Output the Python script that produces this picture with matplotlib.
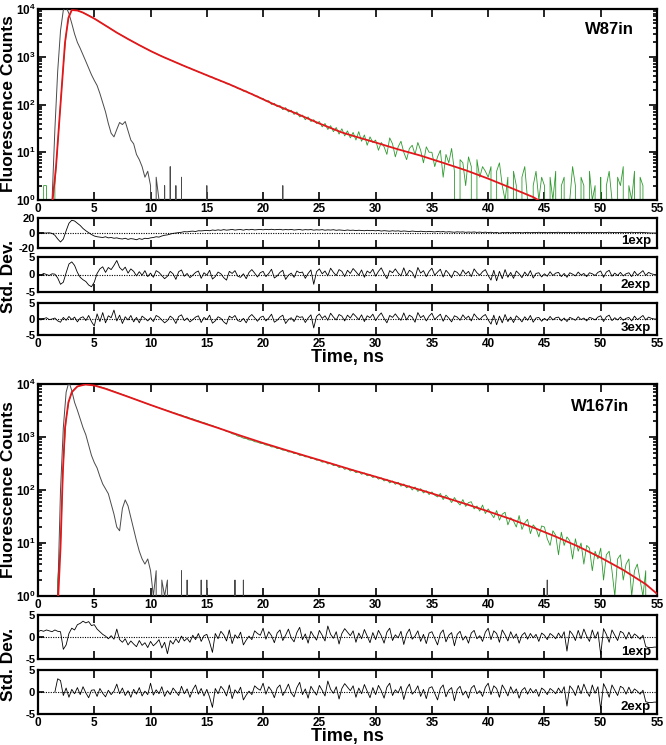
import numpy as np
import matplotlib
matplotlib.use("Agg")
import matplotlib.pyplot as plt
from matplotlib.ticker import LogLocator, NullFormatter, FuncFormatter, FixedLocator

nan = float("nan")

# ---------------- data ----------------
# time channels: 0 .. 55 ns in 0.25 ns steps (221 channels)
t_first, t_last, n_channels = 0.0, 55.0, 221
x_tick_values = [0, 5, 10, 15, 20, 25, 30, 35, 40, 45, 50, 55]

# ---- panel A (W87in) ----
w87_fit_time = [1.3, 1.6, 2.0, 2.4, 2.7, 3.0, 3.5, 4, 5, 6, 7, 8, 9, 10, 11, 13, 15, 17, 19, 21,
                23, 25, 27, 28, 30, 32, 34, 36, 38, 40, 42, 44, 44.6]
w87_fit_counts = [1, 5, 100, 2000, 6500, 9500, 9300, 8400, 6300, 4500, 3200, 2350, 1750, 1320, 1020,
                  640, 410, 265, 165, 100, 64, 40, 26, 22, 16, 11.5, 8.5, 6.0, 4.2, 2.8, 1.8, 1.15, 0.95]

w87_data_rows = [
    [0, 0, 2, 2, 0, 0, 2, 15, 105, 640, 3000, 7100, 9500, 9450, 9300, 8900, 8400, 7900, 7350, 6850],
    [6290, 5870, 5330, 4920, 4480, 4170, 3790, 3510, 3190, 2960, 2740, 2560, 2340, 2200, 2020, 1900, 1740, 1640, 1510, 1430],
    [1330, 1230, 1170, 1080, 1030, 955, 915, 850, 815, 755, 725, 670, 645, 600, 580, 535, 515, 480, 462, 430],
    [415, 380, 375, 340, 335, 305, 300, 272, 268, 245, 240, 215, 212, 190, 192, 172, 168, 152, 150, 136],
    [134, 118, 120, 100, 106, 90, 95, 78, 86, 70, 76, 62, 70, 55, 60, 48, 55, 44, 48, 40],
    [44, 34, 40, 30, 36, 27, 33, 24, 31, 22, 28, 20, 26, 18, 27, 17, 23, 14, 21, 16],
    [18, 11, 16, 13, 9, 20, 15, 8, 13, 17, 10, 7, 12, 14, 9, 16, 11, 6, 13, 10],
    [10, 5, 8, 11, 3, 9, 6, 12, 4, 0, 7, 6, 2, 8, 5, 0, 7, 3, 5, 4],
    [3, 5, 0, 4, 6, 2, 1, 3, 0, 4, 2, 0, 3, 5, 1, 0, 2, 4, 1, 3],
    [2, 0, 3, 1, 4, 0, 2, 3, 0, 1, 5, 2, 0, 3, 2, 0, 4, 1, 2, 0],
    [3, 0, 2, 4, 1, 0, 3, 2, 5, 0, 2, 1, 4, 0, 3, 2, 0, 0, 0, 0, 0],
]
w87_irf_rows = [
    [0, 0, 0, 0, 0, 1, 30, 500, 3500, 9500, 11000, 8000, 5000, 3000, 2000, 1500, 1100, 800, 580, 420],
    [320, 250, 170, 110, 70, 40, 25, 21, 30, 42, 38, 44, 28, 18, 15, 9, 7, 5, 3, 4],
    [2, 0, 3, 1, 0, 2, 0, 5, 0, 2, 0, 3, 0, 0, 0, 0, 0, 0, 0, 0],
    [2, 0, 0, 0, 0, 0, 0, 0, 0, 0, 0, 0, 0, 0, 0, 0, 0, 0, 0, 0],
    [0, 0, 0, 0, 0, 0, 0, 2, 0, 0, 0, 0, 0, 0, 0, 0, 0, 0, 0, 0],
    [0] * 20, [0] * 20, [0] * 20, [0] * 20, [0] * 20, [0] * 21,
]
w87_res1_rows = [
    [0, 0, 0, 0, 0.3, -0.5, -3, -8, -12, -8, 3, 13, 17, 16, 13, 10, 6, 3, 0.5, -2],
    [-4, -5, -5.5, -6, -5, -6.5, -6, -7, -6.5, -7.5, -8, -7, -8.5, -7.5, -8, -9, -7.5, -8.5, -7, -7.5],
    [-6.5, -6, -5, -5.5, -4, -3, -2.5, -1.5, -0.5, 0, 0.5, 1, 1.8, 1.5, 2.2, 2.5, 2, 3, 2.8, 3.2],
    [3.5, 3, 4, 3.5, 4.2, 3.6, 4.5, 3.8, 4.2, 4.8, 3.9, 4.4, 4.6, 3.8, 4.7, 4.2, 4.9, 4.1, 4.5, 4.8],
    [4.2, 4.9, 4.4, 5, 4.3, 4.6, 4.9, 4.1, 4.6, 4.3, 4.8, 4, 4.4, 4.7, 3.9, 4.5, 4.2, 4.6, 3.8, 4.3],
    [4.0, 4.5, 3.7, 4.2, 3.9, 4.4, 3.6, 4.1, 3.8, 3.4, 4.0, 3.5, 3.8, 3.2, 3.7, 3.4, 3.0, 3.6, 3.1, 3.3],
    [2.9, 3.4, 2.6, 3.1, 2.8, 2.4, 3.0, 2.5, 2.9, 2.2, 2.7, 2.4, 2.0, 2.6, 2.2, 1.8, 2.4, 2.0, 1.6, 2.2],
    [1.8, 1.4, 2.1, 1.5, 1.9, 1.2, 1.7, 1.4, 1.0, 1.6, 1.2, 1.5, 0.9, 1.3, 1.0, 1.4, 0.8, 1.2, 0.7, 1.1],
    [0.6, 1.0, 0.2, 0.8, -0.2, 0.6, 0.3, 0.9, 0.1, 0.7, 0.4, 0.8, 0.2, 0.6, 0.9, 0.3, 0.7, 0.5, 1.0, 0.4],
    [0.8, 0.3, 0.9, 0.5, 0.7, 1.0, 0.4, 0.8, 0.6, 0.9, 0.3, 0.7, 1.0, 0.5, 0.8, 0.4, 0.9, 0.6, 0.8, 0.5],
    [0.9, 0.4, 0.7, 1.0, 0.5, 0.8, 0.6, 0.9, 0.4, 0.8, 0.6, 1.0, 0.5, 0.7, 0.9, 0.6, 0.4, 0.2, 0.0, 0.0, 0.0],
]
# 2exp / 3exp residuals: different start (0-9.75 ns), common tail (10-55 ns)
w87_res2_head = [
    [0.1, -0.2, 0.3, 0.0, -0.3, 0.2, 0.1, -1.0, -2.8, -2.2, 0.5, 3.0, 3.6, 2.6, 0.6, -0.8, -1.5, -2.0, -3.0, -3.5],
    [-2.2, 0.3, 1.6, 2.2, 0.6, 2.0, 1.4, 2.6, 4.0, 2.0, 1.2, 2.1, 0.4, 1.6, 0.9, -0.4, 0.8, -0.2, 1.1, -0.6],
]
w87_res3_head = [
    [0.2, -0.3, 0.1, 0.4, -0.2, 0.0, 0.3, -0.6, -1.0, 0.5, -0.4, 0.8, -0.2, 0.6, -0.9, 0.3, 0.7, -0.5, 1.1, -0.8],
    [-2.2, 1.6, -0.8, 2.0, -1.2, 1.0, 0.4, 2.8, -0.6, 1.2, -1.4, 0.7, -0.3, 1.1, -0.9, 0.5, -1.2, 0.9, 0.2, -0.6],
]
w87_res_tail = [
    [0.4, -0.8, 1.1, 0.6, -0.3, -1.2, -0.5, 0.9, 0.2, -1.4, 0.8, 1.3, -0.5, 0.3, -0.9, -0.2, 0.6, 1.0, -1.1, 0.5],
    [-0.2, 1.2, -1.3, -0.6, 0.7, 0.2, -0.9, -1.6, 0.9, 0.3, 1.1, -0.5, -0.8, 0.2, -1.2, 0.6, 1.4, 0.4, -0.7, 0.5],
    [0.9, -0.6, 0.3, 1.5, -1.0, -0.4, 0.6, 1.2, -1.4, -0.2, 0.4, -0.8, 1.0, 0.5, 0.7, -1.1, 0.3, 1.3, -2.8, 0.8],
    [1.6, 0.2, 1.0, -0.4, 1.8, 0.6, -0.3, 1.4, 0.9, -0.6, 1.2, 0.3, 1.7, 0.8, -0.2, 1.3, -0.8, 1.0, 0.4, 1.5],
    [-0.5, 0.9, 1.9, 0.2, -1.2, 1.1, 0.5, 1.6, 0.4, -0.4, 1.9, -0.3, 1.2, 0.6, -1.0, 2.0, 0.4, 1.1, -0.6, 0.9],
    [1.8, -0.2, 0.7, 1.5, -0.7, 1.2, 0.3, -0.9, 1.0, 0.6, -0.4, 1.3, 0.1, 0.9, -0.6, 1.6, 0.5, -0.2, 0.8, 1.4],
    [-0.3, -1.6, 1.2, -1.8, 0.9, -1.2, 1.4, -0.8, 0.6, -1.1, 1.0, 0.2, -0.9, 0.7, -0.4, 1.1, -1.0, 0.3, 0.5, -0.7],
    [0.2, -0.5, 0.8, -0.3, 0.4, 0.6, -0.6, 0.3, -0.8, 0.5, 0.1, -0.4, 0.7, -0.2, 0.3, -0.6, 0.5, 0.2, -0.3, 0.6],
    [1.0, -0.8, 0.7, 1.2, -0.5, 0.4, -0.3, 0.6, -0.4, 0.2, 0.5, -0.6, 0.9, -0.2, 0.4, 1.1, -0.3, 0.6, 0.2, 0.0, 0.0],
]

# ---- panel B (W167in) ----
w167_fit_time = [1.8, 2.0, 2.2, 2.4, 2.7, 3.0, 3.5, 4.2, 5, 6, 8, 10, 12, 14, 16, 18, 20, 22, 24, 26,
                 28, 30, 32, 34, 36, 38, 40, 42, 44, 46, 48, 50, 52, 54, 55]
w167_fit_counts = [1, 8, 200, 1500, 4500, 7000, 9000, 9800, 9380, 8130, 5750, 4030, 2850, 2040, 1480,
                   1060, 770, 570, 425, 318, 236, 178, 133, 100, 74, 54.5, 39.5, 28.3, 19.6, 13.2, 8.6,
                   5.3, 3.1, 1.67, 1.1]

w167_data_rows = [
    [0, 0, 0, 0, 0, 0, 0, 2, 9, 320, 2200, 4700, 7000, 8100, 8900, 9400, 9600, 9750, 9700, 9550],
    [9480, 9200, 8860, 8600, 8280, 7950, 7570, 7270, 6920, 6650, 6330, 6080, 5790, 5550, 5270, 5060, 4800, 4610, 4380, 4200],
    [3990, 3860, 3680, 3560, 3390, 3290, 3130, 3040, 2880, 2800, 2660, 2590, 2450, 2390, 2260, 2200, 2090, 2030, 1920, 1860],
    [1790, 1690, 1650, 1550, 1510, 1410, 1370, 1270, 1240, 1150, 1120, 1040, 1010, 950, 935, 880, 870, 815, 800, 760],
    [750, 705, 698, 650, 652, 605, 604, 565, 566, 522, 526, 487, 489, 450, 456, 422, 425, 392, 395, 365],
    [370, 335, 345, 310, 320, 288, 300, 265, 278, 245, 258, 228, 240, 212, 225, 198, 210, 185, 196, 172],
    [182, 160, 170, 148, 160, 136, 148, 128, 140, 118, 130, 110, 120, 100, 114, 94, 106, 88, 97, 82],
    [92, 80, 74, 86, 66, 80, 70, 58, 72, 60, 52, 66, 49, 58, 60, 44, 50, 40, 52, 36],
    [44, 36, 30, 41, 27, 35, 38, 22, 30, 26, 20, 33, 18, 24, 28, 15, 22, 19, 13, 21],
    [20, 12, 9, 17, 14, 6, 16, 9, 13, 11, 5, 12, 7, 10, 4, 9, 8, 3, 7, 5],
    [8, 2, 6, 7, 3, 1, 5, 6, 2, 4, 5, 1, 3, 4, 2, 1, 3, 0, 0, 0, 0],
]
w167_irf_rows = [
    [0, 0, 0, 0, 0, 0, 0, 1, 100, 1500, 7000, 11000, 7500, 4500, 3200, 2200, 1500, 1100, 700, 450],
    [330, 260, 180, 130, 105, 85, 55, 35, 20, 17, 45, 65, 50, 30, 18, 11, 7, 5, 4, 5],
    [3, 1, 3, 0, 2, 1, 2, 0, 0, 0, 0, 3, 0, 2, 0, 0, 0, 0, 2, 0],
    [2, 0, 0, 0, 0, 0, 0, 0, 0, 0, 2, 0, 0, 2, 0, 0, 0, 0, 0, 0],
    [0] * 20, [0] * 20, [0] * 20, [0] * 20, [0] * 20,
    [0, 2, 0, 0, 0, 0, 0, 0, 0, 0, 0, 0, 0, 0, 0, 0, 0, 0, 0, 0],
    [0] * 21,
]
w167_res1_head = [
    [1.2, 1.5, 1.3, 1.6, 1.4, 1.2, 1.6, 1.3, 1.2, -2.8, -1.8, 0.8, 2.0, 1.6, 2.8, 3.1, 3.6, 3.2, 3.5, 2.6],
    [2.8, 1.8, 1.2, 0.6, 0.2, -0.4, 0.3, -0.5, 1.8, -0.6, -1.2, -0.4, -1.8, -0.9, -1.6, -2.2, -0.8, -1.9, -1.3, -2.4],
    [-1.0, -2.0, -1.4, -0.6, -2.5, -1.2, -3.8, -0.8, -1.6, -0.4, -1.3, 0.2, -0.9, -0.3, -1.2, 0.4, -0.6, 0.8, -1.0, 0.3],
]
w167_res2_head = [
    [nan, nan, nan, nan, nan, nan, 0.0, 3.0, 2.6, -0.8, 0.9, -1.2, 0.6, -0.4, 1.0, -0.6, 1.2, -0.2, -1.3, 0.4],
    [0.5, -1.0, 0.8, -0.3, -1.1, 0.4, -0.6, 0.2, 1.8, -0.4, 0.9, -0.8, 0.3, -1.2, 0.6, -0.5, 1.0, -0.9, 0.2, -0.6],
    [2.0, -0.7, 0.5, -0.4, 1.2, -1.0, 0.3, -0.6, 0.9, 0.1, -0.8, 1.3, -0.4, 0.7, -1.2, 0.5, 1.6, -0.5, 0.8, -0.9],
]
w167_res_tail = [
    [0.6, -1.2, -3.5, 0.8, -0.4, 1.3, 0.5, -0.9, 1.6, -1.5, 0.5, -0.3, 1.1, -1.8, -0.7, 0.2, -0.6, 1.4, 0.8, 0.4],
    [2.0, -0.5, 1.2, 0.3, -1.3, 0.9, 1.6, -0.8, 0.4, 1.8, -0.2, -1.1, 1.0, 2.2, -0.6, 0.7, -1.4, 1.3, 0.2, -0.7],
    [1.5, 0.4, -0.9, 2.5, 0.6, -0.3, 1.2, -1.6, 0.8, 1.9, 1.1, 0.3, 1.4, -1.2, 0.9, -0.4, 1.7, 0.2, -1.3, 1.0],
    [-0.6, 1.5, 0.3, -1.4, 1.1, 2.0, -0.8, 0.5, -0.2, 1.3, -1.7, 0.7, 1.8, -0.5, 0.2, 1.4, -1.0, 0.6, -1.5, 0.9],
    [1.2, -0.3, -1.8, 0.8, 1.6, -1.1, 0.4, 1.0, -2.0, 0.6, 1.3, -0.7, 0.2, -1.4, 0.9, 1.5, -0.4, 0.3, -1.0, 1.1],
    [2.0, -0.6, 1.4, 0.8, -1.2, 1.6, 0.5, -0.9, 1.2, -0.3, 0.7, -1.4, 0.4, 1.0, -0.5, 0.8, -0.2, 0.6, -1.0, 0.9],
    [0.4, -0.6, 0.8, 0.3, -0.4, 0.9, -0.2, 1.2, -3.2, 1.4, 0.6, -0.8, 1.5, -0.4, 1.8, 0.2, -1.0, 1.6, -0.3, 1.2],
    [-4.0, 1.9, 0.6, -1.2, 1.6, 0.4, -0.8, 1.3, 0.9, -0.5, 1.1, -0.3, 0.7, 0.2, -0.5, 0.4, -2.2, -2.4, -2.4, -2.3, -2.3],
]


def flat(rows):
    return np.array([v for r in rows for v in r], dtype=float)


time_ns = np.linspace(t_first, t_last, n_channels)

# ---------------- style ----------------
plt.rcParams.update({
    "font.family": ["Liberation Sans", "DejaVu Sans"],
    "font.weight": "bold",
    "axes.labelweight": "bold",
    "axes.unicode_minus": False,
    "mathtext.fontset": "custom",
    "mathtext.rm": "Liberation Sans:bold",
    "mathtext.bf": "Liberation Sans:bold",
    "mathtext.it": "Liberation Sans:bold:italic",
})

RED = "#e4161b"
GREEN = "#2f9a2f"
GRAY = "#4a4a4a"
W, H = 666, 745
fig = plt.figure(figsize=(W / 100, H / 100), dpi=100)


def box(l, t, r, b):
    return [l / W, 1 - b / H, (r - l) / W, (b - t) / H]


def style_spines(ax):
    for s in ax.spines.values():
        s.set_linewidth(1.6)


def decay_axes(rect, label, label_x):
    ax = fig.add_axes(rect)
    ax.set_yscale("log")
    ax.set_xlim(0, 55)
    ax.set_ylim(1, 1e4)
    ax.xaxis.set_major_locator(FixedLocator(x_tick_values))
    ax.yaxis.set_major_locator(LogLocator(base=10, numticks=10))
    ax.yaxis.set_minor_locator(LogLocator(base=10, subs=np.arange(2, 10), numticks=10))
    ax.yaxis.set_minor_formatter(NullFormatter())
    ax.yaxis.set_major_formatter(FuncFormatter(lambda v, p: r"$10^{%d}$" % int(round(np.log10(v)))))
    ax.tick_params(which="both", direction="in", top=True, right=True, width=1.2, labelsize=8.5)
    ax.tick_params(which="major", length=6, pad=2)
    ax.tick_params(which="minor", length=3)
    style_spines(ax)
    ax.text(label_x, 0.93, label, transform=ax.transAxes,
            ha="right", va="top", fontsize=12, fontweight="bold")
    return ax


def resid_axes(rect, lim, label, show_x):
    ax = fig.add_axes(rect)
    ax.set_xlim(0, 55)
    ax.set_ylim(-lim, lim)
    ax.set_yticks([-lim, 0, lim])
    ax.set_yticklabels([str(-lim), "0", str(lim)])
    ax.xaxis.set_major_locator(FixedLocator(x_tick_values))
    ax.tick_params(axis="x", direction="in", top=True, bottom=True, length=6, width=1.2,
                   labelsize=8.5, pad=2, labelbottom=show_x)
    ax.tick_params(axis="y", direction="in", left=True, right=False, length=4, width=1.2,
                   labelsize=8, pad=2)
    ax.axhline(0, color="black", lw=0.8, ls=(0, (1, 1.2)), zorder=1)
    style_spines(ax)
    ax.text(0.99, 0.03, label, transform=ax.transAxes, ha="right", va="bottom",
            fontsize=9.5, fontweight="bold")
    return ax


# ---------------- panel A ----------------
axA = decay_axes(box(38, 9, 657, 200), "W87in", 0.962)
axA.plot(time_ns, flat(w87_data_rows), color=GREEN, lw=0.6, zorder=2)
axA.plot(time_ns, flat(w87_irf_rows), color=GRAY, lw=0.7, zorder=3)
axA.plot(w87_fit_time, w87_fit_counts, color=RED, lw=1.3, zorder=4)

rA1 = resid_axes(box(38, 218, 657, 248), 20, "1exp", False)
rA1.plot(time_ns, flat(w87_res1_rows), color="black", lw=0.6)
rA2 = resid_axes(box(38, 257, 657, 292), 5, "2exp", False)
rA2.plot(time_ns, flat(w87_res2_head + w87_res_tail), color="black", lw=0.6)
rA3 = resid_axes(box(38, 303, 657, 335), 5, "3exp", True)
rA3.plot(time_ns, flat(w87_res3_head + w87_res_tail), color="black", lw=0.6)

fig.text(9 / W, 1 - 104 / H, "Fluorescence Counts", rotation=90, ha="center", va="center",
         fontsize=12.5, fontweight="bold")
fig.text(9 / W, 1 - 276 / H, "Std. Dev.", rotation=90, ha="center", va="center",
         fontsize=12.5, fontweight="bold")
fig.text(347 / W, 1 - 357 / H, "Time, ns", ha="center", va="center", fontsize=13, fontweight="bold")

# ---------------- panel B ----------------
axB = decay_axes(box(38, 384, 657, 596), "W167in", 0.955)
axB.plot(time_ns, flat(w167_data_rows), color=GREEN, lw=0.6, zorder=2)
axB.plot(time_ns, flat(w167_irf_rows), color=GRAY, lw=0.7, zorder=3)
axB.plot(w167_fit_time, w167_fit_counts, color=RED, lw=1.3, zorder=4)

rB1 = resid_axes(box(38, 615, 657, 659), 5, "1exp", False)
rB1.plot(time_ns, flat(w167_res1_head + w167_res_tail), color="black", lw=0.6)
rB2 = resid_axes(box(38, 670, 657, 714), 5, "2exp", True)
rB2.plot(time_ns, flat(w167_res2_head + w167_res_tail), color="black", lw=0.6)

fig.text(9 / W, 1 - 490 / H, "Fluorescence Counts", rotation=90, ha="center", va="center",
         fontsize=12.5, fontweight="bold")
fig.text(9 / W, 1 - 664 / H, "Std. Dev.", rotation=90, ha="center", va="center",
         fontsize=12.5, fontweight="bold")
fig.text(347 / W, 1 - 737 / H, "Time, ns", ha="center", va="center", fontsize=13, fontweight="bold")

fig.savefig("out.png", dpi=100)
